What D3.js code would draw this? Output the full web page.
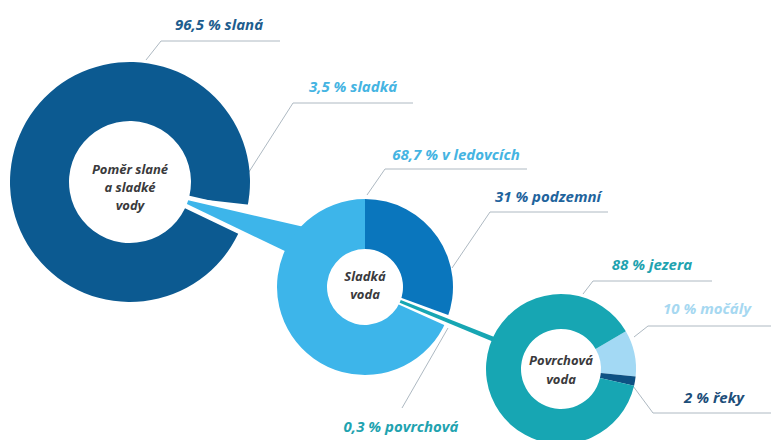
<!DOCTYPE html>
<html><head><meta charset="utf-8">
<script src="https://cdn.jsdelivr.net/npm/d3@7"></script>
<style>
html,body{margin:0;padding:0;background:#fff;}
svg{display:block;}
text{font-family:"Open Sans",Lato,sans-serif;font-weight:700;font-style:italic;}
</style></head>
<body>
<svg id="c" width="771" height="440"></svg>
<script>
// ---- data ----
const ratioCats = ["slaná", "sladká"];
const ratioVals = [96.5, 3.5];
const freshCats = ["podzemní", "povrchová", "v ledovcích"];
const freshVals = [31, 0.3, 68.7];
const surfaceCats = ["močály", "řeky", "jezera"];
const surfaceVals = [10, 2, 88];
const centerTitles = [["Poměr slané", "a sladké", "vody"], ["Sladká", "voda"], ["Povrchová", "voda"]];

// ---- layout / style ----
const deg = Math.PI / 180;
const donuts = [
  {cats: ratioCats, vals: ratioVals, cx: 130, cy: 182, R: 120, r: 61, start: 115.6 * deg,
   fills: ["#0c5a91", "#3db5ea"], textCol: ["#1d5d8e", "#45b4e2"], explode: 1},
  {cats: freshCats, vals: freshVals, cx: 365, cy: 287, R: 88, r: 38, start: 0,
   fills: ["#0a76bd", "#17a6b3", "#3db5ea"], textCol: ["#1f649d", "#1fa3b0", "#45b4e2"], explode: 1},
  {cats: surfaceCats, vals: surfaceVals, cx: 561, cy: 369, R: 75, r: 40, start: 59.8 * deg,
   fills: ["#a3d9f4", "#0d5183", "#17a6b3"], textCol: ["#a6d8f1", "#1d4e7a", "#1fa3b0"], explode: -1}
];
// label layout per donut, per slice: text centre x, baseline y, leader polyline
const labelLayout = [
  [ {x: 219, y: 30, line: [[146, 60], [161, 41], [280, 41]]},
    {x: 353, y: 92, line: [[224, 211], [293, 103], [413, 103]]} ],
  [ {x: 548, y: 202, line: [[452, 268], [490, 212], [608, 212]]},
    {x: 401, y: 432, line: [[448, 328], [402, 408]]},
    {x: 456, y: 160, line: [[367, 195], [385, 169], [527, 169]]} ],
  [ {x: 707, y: 314, line: [[634, 337], [648, 326], [771, 326]]},
    {x: 714, y: 403, line: [[633, 386], [653, 413], [771, 413]]},
    {x: 652, y: 270, line: [[583, 294], [593, 281], [712, 281]]} ]
];
const centerY = [[174, 192, 210], [281, 299], [365, 384]];

const svg = d3.select("#c");
const fmt = v => String(v).replace(".", ",");
const u = a => [Math.sin(a), -Math.cos(a)];

function wedge(d, theta, hA, hB, base, len, rr) {
  const ut = u(theta), n = [Math.cos(theta), Math.sin(theta)];
  const A = [d.cx + rr * ut[0], d.cy + rr * ut[1]];
  const A1 = [A[0] - n[0] * base / 2, A[1] - n[1] * base / 2];
  const A2 = [A[0] + n[0] * base / 2, A[1] + n[1] * base / 2];
  const d1 = u(theta - hA), d2 = u(theta + hB);
  const F1 = [A1[0] + d1[0] * len, A1[1] + d1[1] * len];
  const F2 = [A2[0] + d2[0] * len, A2[1] + d2[1] * len];
  return "M" + [A1, F1, F2, A2].map(p => p.join(",")).join("L") + "Z";
}

const pies = donuts.map(d => d3.pie().sort(null).value(v => v)
  .startAngle(d.start).endAngle(d.start + 2 * Math.PI)(d.vals));

const gLines = svg.append("g");
const gShapes = svg.append("g");
const gText = svg.append("g");

donuts.forEach((d, i) => {
  const arc = d3.arc().innerRadius(d.r).outerRadius(d.R);
  gShapes.append("g").attr("transform", `translate(${d.cx},${d.cy})`)
    .selectAll("path").data(pies[i].filter((p, k) => k !== d.explode)).join("path")
    .attr("d", arc).attr("fill", p => d.fills[p.index]);

  if (d.explode >= 0) {
    const s = pies[i][d.explode];
    const child = donuts[i + 1];
    const theta = (s.startAngle + s.endAngle) / 2;
    const h = (s.endAngle - s.startAngle) / 2;
    const ut = u(theta);
    const apex = [d.cx + d.r * ut[0], d.cy + d.r * ut[1]];
    const dist = Math.hypot(child.cx - apex[0], child.cy - apex[1]);
    const isFirst = i === 0;
    // white gap cut in the parent ring
    gShapes.append("path")
      .attr("d", wedge(d, theta, h + (isFirst ? 6.5 : 1.6) * deg, h + (isFirst ? 1.8 : 1.6) * deg,
        isFirst ? 8 : 7, d.R - d.r + (isFirst ? 14 : 6), d.r - 2))
      .attr("fill", "#fff");
    // connector wedge
    gShapes.append("path")
      .attr("d", wedge(d, theta, h, h, isFirst ? 4 : 3, dist - (child.R + child.r) / 2, d.r))
      .attr("fill", d.fills[d.explode]);
  }

  // labels + leaders
  pies[i].forEach((p, k) => {
    const L = labelLayout[i][k];
    gLines.append("path").attr("d", d3.line()(L.line))
      .attr("fill", "none").attr("stroke", "#aeb9c2").attr("stroke-width", 1);
    gText.append("text").attr("x", L.x).attr("y", L.y).attr("text-anchor", "middle")
      .attr("font-size", 15).attr("fill", d.textCol[k])
      .text(`${fmt(d.vals[k])} % ${d.cats[k]}`);
  });

  // centre title
  gText.append("g").selectAll("text").data(centerTitles[i]).join("text")
    .attr("x", d.cx).attr("y", (t, j) => centerY[i][j]).attr("text-anchor", "middle")
    .attr("font-size", 13).attr("fill", "#3a3a3c").text(t => t);
});
</script>
</body></html>
